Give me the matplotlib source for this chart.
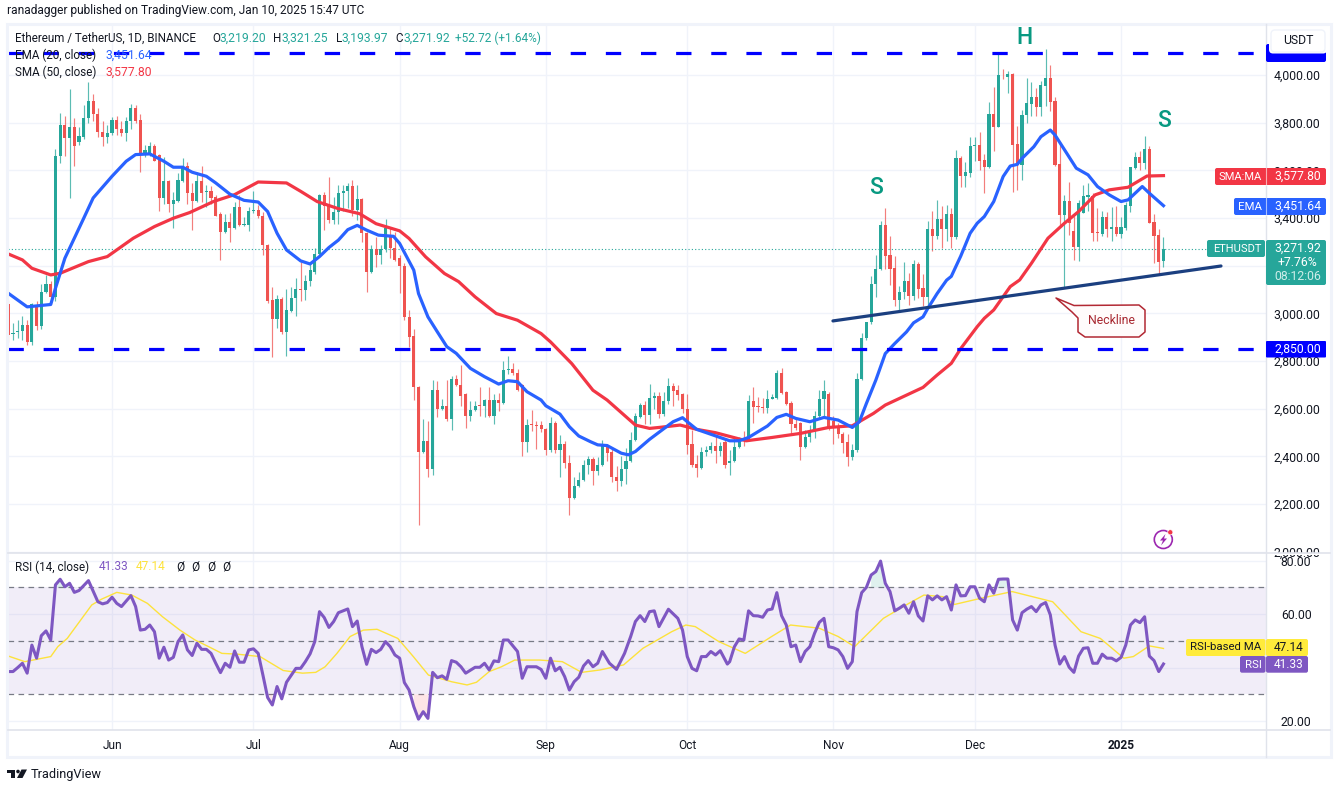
import matplotlib
matplotlib.use("Agg")
import matplotlib.pyplot as plt
from matplotlib.patches import FancyBboxPatch, Rectangle, Circle, Polygon

plt.rcParams['font.family'] = ['Roboto', 'DejaVu Sans']

open_ = [3040,2915,2920,2925,2950,2880,3035,2945,3090,3125,3070,3660,3790,3735,3780,3720,3740,3820,3890,3835,
3760,3740,3755,3810,3775,3755,3805,3860,3810,3665,3670,3700,3665,3485,3555,3460,3470,3555,3620,3505,
3470,3555,3510,3515,3490,3415,3340,3385,3360,3445,3370,3370,3430,3435,3410,3285,3055,2975,3060,2920,
3010,3065,3100,3098,3135,3175,3250,3495,3450,3390,3425,3505,3515,3535,3435,3480,3335,3175,3270,3245,
3270,3323,3275,3230,3200,2985,2905,2690,2420,2465,2345,2680,2600,2610,2555,2725,2700,2660,2570,2595,
2613,2610,2635,2570,2635,2625,2760,2768,2748,2700,2460,2532,2530,2530,2515,2425,2540,2425,2450,2370,
2225,2275,2300,2365,2390,2340,2365,2440,2420,2315,2295,2345,2380,2470,2565,2615,2575,2645,2652,2578,
2630,2694,2678,2660,2600,2452,2366,2350,2417,2425,2443,2423,2460,2370,2380,2440,2475,2470,2633,2608,
2606,2604,2642,2645,2750,2670,2625,2535,2540,2440,2482,2508,2570,2640,2661,2550,2517,2495,2460,2395,
2427,2724,2895,2962,3125,3185,3370,3243,3188,3055,3088,3135,3072,3205,3108,3069,3355,3325,3395,3355,
3417,3322,3650,3578,3590,3700,3705,3642,3612,3836,3783,3999,3993,4004,3710,3622,3832,3880,3906,3867,
3954,3986,3891,3627,3413,3471,3345,3280,3422,3490,3494,3338,3333,3405,3354,3364,3333,3357,3452,3610,
3655,3630,3688,3382,3329,3219.20]
high = [3055,2960,2970,2990,2970,3045,3050,3125,3160,3135,3690,3840,3830,3940,3820,3780,3875,3970,3920,3860,
3805,3790,3825,3830,3805,3825,3880,3875,3835,3705,3720,3710,3670,3655,3560,3510,3590,3650,3635,3545,
3595,3620,3540,3535,3495,3425,3415,3420,3465,3495,3405,3445,3515,3455,3425,3290,3110,3075,3070,3100,
3110,3150,3215,3160,3205,3275,3500,3510,3570,3490,3540,3540,3545,3560,3540,3485,3340,3285,3320,3285,
3395,3363,3340,3245,3210,3015,2935,2695,2555,2550,2720,2715,2640,2720,2735,2740,2785,2665,2630,2630,
2690,2640,2690,2660,2665,2800,2820,2790,2765,2705,2555,2595,2550,2550,2520,2565,2550,2490,2465,2405,
2315,2335,2385,2400,2395,2395,2470,2450,2430,2360,2400,2435,2500,2580,2625,2630,2705,2670,2670,2670,
2727,2708,2699,2665,2660,2510,2405,2440,2443,2458,2490,2460,2475,2425,2475,2480,2505,2657,2689,2650,
2645,2678,2660,2762,2770,2675,2633,2565,2545,2510,2530,2592,2678,2722,2670,2570,2540,2500,2495,2450,
2750,2918,2965,3155,3245,3388,3440,3325,3240,3115,3215,3170,3225,3215,3165,3388,3430,3475,3450,3455,
3440,3685,3660,3636,3738,3740,3760,3670,3888,3950,4088,4025,4015,4010,3785,3855,3986,3970,3945,3976,
4108,4042,3908,3720,3497,3553,3408,3475,3540,3545,3505,3440,3430,3425,3445,3450,3405,3465,3615,3675,
3680,3744,3700,3415,3355,3321.25]
low = [2880,2890,2895,2890,2865,2865,2930,2935,3085,3065,3050,3630,3660,3485,3620,3705,3730,3800,3805,3740,
3700,3715,3750,3750,3745,3725,3775,3800,3595,3655,3660,3640,3430,3460,3425,3360,3465,3550,3460,3350,
3465,3465,3445,3460,3410,3225,3335,3300,3355,3365,3365,3345,3420,3400,3245,3045,2815,2940,2915,2820,
3005,2990,3050,3055,3115,3165,3240,3350,3380,3375,3375,3430,3440,3410,3390,3300,3090,3170,3195,3205,
3258,3234,3220,3085,2970,2860,2635,2110,2415,2315,2320,2565,2595,2550,2510,2695,2610,2520,2550,2590,
2570,2565,2565,2535,2590,2620,2745,2740,2675,2400,2420,2505,2430,2500,2405,2420,2415,2315,2350,2155,
2220,2270,2295,2325,2280,2320,2360,2380,2290,2255,2275,2285,2375,2465,2560,2535,2535,2600,2560,2570,
2620,2611,2637,2580,2410,2355,2315,2345,2400,2415,2370,2400,2352,2320,2375,2435,2445,2465,2540,2585,
2580,2580,2640,2640,2660,2615,2490,2510,2385,2435,2460,2475,2560,2565,2510,2450,2475,2415,2360,2385,
2420,2720,2890,2955,3070,3180,3185,3118,3030,3015,3060,3035,3055,3065,3030,3030,3260,3310,3275,3305,
3273,3310,3532,3530,3570,3640,3600,3505,3608,3680,3780,3985,3925,3510,3518,3560,3800,3830,3830,3830,
3870,3850,3620,3364,3105,3330,3224,3220,3420,3430,3305,3305,3325,3320,3305,3325,3315,3350,3425,3605,
3600,3607,3378,3210,3161,3193.97]
close = [2910,2918,2925,2950,2880,3040,2945,3090,3125,3070,3660,3790,3735,3780,3700,3745,3820,3890,3835,3760,
3740,3755,3810,3775,3755,3805,3860,3805,3665,3685,3700,3640,3485,3555,3460,3475,3560,3620,3505,3470,
3555,3505,3515,3485,3410,3340,3385,3360,3445,3370,3372,3430,3435,3410,3285,3050,2975,3060,2920,3015,
3065,3100,3098,3135,3180,3250,3495,3450,3390,3425,3505,3515,3535,3435,3480,3335,3175,3270,3245,3270,
3360,3276,3225,3200,2985,2900,2690,2420,2465,2345,2680,2600,2610,2555,2725,2700,2655,2570,2595,2610,
2610,2635,2570,2635,2625,2760,2768,2748,2680,2460,2530,2530,2528,2515,2425,2540,2425,2450,2370,2225,
2275,2300,2365,2390,2340,2365,2445,2415,2315,2295,2345,2380,2470,2570,2615,2575,2645,2652,2578,2630,
2694,2675,2657,2598,2447,2363,2350,2417,2425,2443,2423,2443,2363,2380,2440,2475,2468,2633,2608,2606,
2604,2642,2650,2748,2667,2620,2535,2520,2440,2482,2508,2570,2640,2675,2513,2517,2492,2457,2395,2427,
2724,2895,2962,3125,3185,3370,3240,3185,3055,3088,3135,3072,3205,3104,3069,3355,3325,3395,3355,3415,
3322,3650,3578,3595,3702,3705,3640,3612,3836,3783,4000,3998,4003,3706,3622,3832,3881,3906,3867,3958,
3986,3888,3622,3413,3471,3378,3280,3462,3492,3497,3336,3336,3405,3354,3364,3333,3364,3455,3613,3655,
3632,3688,3381,3326,3217,3271.92]

ema_day = [0,4,9,10,12,14,16,18,22,25,27,30,33,35,37,39,42,44,47,50,53,55,57,59,62,64,66,68,70,72,74,76,78.5,81.7,83,86,87,89,91,93,95,98,101,104,106,108,110,113,114,117,119,121,123.5,125,127,130,131.5,133,136,138.5,141,143,144,146,149.5,153,155,157,161,163,165,167,170,173,176,179,180.5,182,184,186,188,190.5,192,194,195,197,199,200,202,204,205.5,207,209,211,212.5,214,215,217.5,219,221,222,224.5,226.5,229,231,233.5,236,237.5,240.5,242,245]
ema_val = [3084,3027,3037,3105,3231,3315,3399,3484,3575,3638,3666,3669,3638,3613,3613,3592,3575,3547,3500,3474,3467,3427,3336,3266,3220,3207,3238,3276,3307,3351,3369,3349,3328,3323,3293,3181,3083,2985,2922,2860,2832,2769,2734,2703,2717,2713,2671,2636,2612,2577,2524,2485,2461,2448,2445,2413,2406,2420,2471,2508,2545,2562,2545,2513,2489,2465,2465,2479,2527,2563,2576,2559,2545,2563,2552,2521,2545,2622,2720,2831,2873,2922,2960,2985,3020,3083,3139,3155,3240,3336,3378,3406,3469,3574,3618,3625,3650,3699,3741,3769,3748,3671,3609,3581,3532,3497,3469,3476,3532,3504,3451.64]
sma_day = [0,3,5,9,11,17,21,26.5,31,35,38.5,43.5,48,53,59,62,65.5,70,74.5,78,83,85,88.5,92.5,95.5,99,103.5,108,113,115,119.5,124,127,133,136,138,142.5,146,150,156.5,162,168,174,179,183.5,186,194,197,200,202,205.5,207,209,212.5,214.5,217,220.5,224,227,230.5,233.5,237.5,241.5,245]
sma_val = [3249,3224,3189,3161,3168,3217,3238,3315,3364,3399,3423,3469,3498,3551,3547,3512,3469,3439,3418,3376,3346,3314,3237,3167,3133,3069,2999,2971,2915,2880,2789,2677,2636,2531,2517,2521,2531,2513,2499,2465,2479,2496,2521,2528,2580,2615,2689,2741,2790,2852,2944,2979,3014,3112,3140,3210,3315,3378,3427,3497,3518,3529,3576,3577.80]

rsi_day = [0,1,2,3,4,5,6,7,8,9,10,11,12,13,14,15,17,19,20,21,22,23,24,26,27,28,29,30,31,32,33,34,35,36,37,38,39,40,41,42,43,44,45,46,47,48,49,50,51,52,53,54,55,56,57,58,59,61,62,63,64,65,66,67,68,69,70,72,73,74,75,76,77,78,79,80,81,82,83,84,85,86,87,88,89,90,91,92,93,94,95,96,97,99,100,101,102,103,104,105,106,108,109,110,112,113,114,115,116,117,118,119,120,121,122,123,124,125,126,
127.5,129,130.7,132,133,134,135,136,137,138,140,142,143,144,145,146,147,148,149,150,151,152.5,153,154,155,156,157,158,159,160,161,162,163,164,165,166,167,168,169,170,171,172,173,174,175,176,177,178,179,180,181,182,183,184,185,186,187,188,189,190,191,192,193,194,195,196,197,198,199,200,201,202,203,204,205,206,207,208,209,210,211,212,213,214,215,216,217,218,219,220,221,222,223,224,225,226,227,228,229,230,231,232,233,234,235,236,237,238,239,240,241,242,243,244,245]
rsi_val = [38.5,38.5,40,41.6,37.9,48.4,43.5,51.9,53.7,50.3,70.9,73,70.2,71.5,68.1,68.8,72.5,64.6,63.8,64.3,66.3,64,62.8,66.9,62.8,54,54.3,55.9,53.4,43.5,47.6,42.8,43.8,49.7,52.2,46.6,44.5,49.1,46.8,46.8,45.3,41.6,38.1,41.6,40.1,46.2,42,42,46.6,47,45.3,37.2,28.8,26,32.9,28.3,34.5,39.7,39.7,42.2,45.1,49.7,60.9,58.7,55,57.2,60.5,61.9,55.3,57.4,47.8,41.2,46.8,45.6,46.8,49.7,47.8,44.7,43.5,34.4,31.6,25.4,20.7,23.5,21,38.2,36.2,36.9,35.6,42.6,42,40.3,37.9,40.1,40.1,41.6,39.1,42.5,42.2,50.3,50.3,46,36,40.3,40.3,39.3,36,43.5,38.8,40.1,36.6,31.6,34.7,36.4,40.6,42.6,40.3,41.6,46,
41.6,39.3,45.3,51.6,57.2,59.4,57.2,60.9,61.2,55.3,61.8,58.4,54,44.1,39.7,38.8,44.1,44.1,46,44.7,46.3,41.3,42.2,47.8,50.7,50.3,61.2,59.4,59.3,58.8,61.5,61.9,68,59.4,55.9,47.8,48.4,42.2,46,47.8,52.8,56.9,58.4,47.8,47.4,46.6,44.1,39.7,42.2,60.9,68,70,74.6,75.9,79.8,71.5,68.4,61.2,62.2,63.4,60.3,64.6,59.3,57.4,66.8,65.3,66.8,65.3,66.5,61.5,70.9,66.8,66.9,70.2,70.2,65.9,64.6,70.9,67.8,73,73.1,73.1,57.8,54,60.5,61.8,62.8,60.9,63.4,64.3,59.7,48.4,41.3,44.1,40.1,38.2,44.3,47.2,47.4,41.6,41.6,45,43.5,43.5,42.5,43.8,48.4,55.9,57.8,56.8,59,44.3,42.6,38.5,41.33]
rsima_day = [0,3.5,9,10.5,12.5,17.7,19.7,23,26.2,29.5,32.7,36.4,39.6,42.5,45.3,48.6,53.4,58.3,62.4,65.2,67.2,69.7,72.5,75.3,78.2,82.6,85.9,89.1,94,97.3,99.3,102,104.6,107.4,112.7,117.5,121.6,125.5,130.5,134.6,140.7,143.7,145.7,150.7,156.3,161.9,165.9,172,176,179.5,185.6,191,194.2,198.2,200.7,206.3,212.9,221.5,227.5,231.6,236.6,238.6,242,245]
rsima_val = [44.3,42.2,44.1,47.8,50.9,63.4,65.5,68.1,67.1,64,59,54,50.3,47.8,45.3,45,44.1,38.9,37.9,38.2,40.3,45.3,51.6,54,54.3,50.9,44.1,37.2,34.7,33.5,34.5,38.5,40.3,42.8,42.8,42.2,38.2,39.1,41,47.2,53.4,55.9,55.3,49.7,45.3,51.6,55.9,54.7,51.6,47.8,58.4,64,67.1,66.5,63.6,65.9,68.4,64.6,53.4,50.9,43.5,44.1,48.1,47.14]

price_ticks = [2000,2200,2400,2600,2800,3000,3200,3400,3600,3800,4000]
rsi_ticks = [20,40,60,80]
rsi_guides = [30,50,70]
month_days = [22,52,83,114,144,175,205,236]
month_labels = ['Jun','Jul','Aug','Sep','Oct','Nov','Dec','2025']
support_levels = [4091,2850]
neck_day = [174.9,257.2]
neck_price = [2968,3198.5]

UP = '#26A69A'; DOWN = '#EF5350'; BLUE = '#2962FF'; RED = '#F23645'
PURPLE = '#7E57C2'; YEL = '#FFEB3B'; GRID = '#F0F3FA'; LINE = '#E0E3EB'; TXT = '#131722'
W, H = 1339, 790
fig = plt.figure(figsize=(W/100, H/100), dpi=100, facecolor='white')

def pane(x0, y0, x1, y1):
    return fig.add_axes([x0/W, 1-y1/H, (x1-x0)/W, (y1-y0)/H])

xlim = ((8-8.3)/4.715, (1265.5-8.3)/4.715)
ax = pane(8, 24, 1265.5, 552.5)
ax.set_xlim(*xlim)
ax.set_ylim(4000-(552.5-75)/0.2383, 4000+(75-24)/0.2383)
rx = pane(8, 552.5, 1265.5, 729.5)
rx.set_xlim(*xlim)
rx.set_ylim(30-(729.5-694.3)/2.675, 70+(587.3-552.5)/2.675)

for a in (ax, rx):
    for s in a.spines.values():
        s.set_visible(False)
    a.yaxis.tick_right()
    a.tick_params(length=0, labelsize=8.8, labelcolor=TXT)
    a.set_xticks(month_days)
    a.grid(True, color=GRID, lw=1)
    a.set_axisbelow(True)
ax.tick_params(axis='y', pad=6)
rx.tick_params(axis='y', pad=11)
ax.set_xticklabels([])
ax.set_yticks(price_ticks)
# the 3,200 label sits wholly behind the last-price tag, the 40 label behind the RSI tag
ax.set_yticklabels(['' if t == 3200 else f'{t:,.2f}' for t in price_ticks])
rx.set_yticks(rsi_ticks)
rx.set_yticklabels(['' if t == 40 else f'{t:.2f}' for t in rsi_ticks])
rx.set_xticklabels(month_labels)
rx.tick_params(axis='x', labelsize=8.6, pad=6.5)
rx.get_xticklabels()[-1].set_fontweight('bold')

days = list(range(len(close)))
ucol = [UP if c >= o else DOWN for o, c in zip(open_, close)]
ax.vlines(days, low, high, colors=ucol, lw=0.85, alpha=0.75, zorder=2)
ax.bar(days, [abs(c-o) if abs(c-o) > 4 else 4 for o, c in zip(open_, close)],
       bottom=[min(o, c) for o, c in zip(open_, close)], width=0.66, color=ucol, lw=0, zorder=3)
ax.axhline(close[-1], xmax=(1207-8)/(1265.5-8), color=UP, lw=0.8, ls=(0, (1, 2)), zorder=2)
ax.plot(sma_day, sma_val, color=RED, lw=2.3, zorder=4, solid_joinstyle='round')
ax.plot(ema_day, ema_val, color=BLUE, lw=2.3, zorder=5, solid_joinstyle='round')
for lv in support_levels:
    ax.axhline(lv, color='#0000FF', lw=2.3, ls=(0, (4.8, 6.2)), zorder=6)
ax.plot(neck_day, neck_price, color='#1B3F80', lw=2.3, zorder=6, solid_capstyle='round')

rx.axhspan(rsi_guides[0], rsi_guides[2], color=PURPLE, alpha=0.1, lw=0, zorder=1)
for g in rsi_guides:
    rx.axhline(g, color='#787B86', lw=0.9, ls=(0, (4.5, 3.5)), zorder=2)
rx.fill_between(rsi_day, rsi_val, 30, where=[v < 30 for v in rsi_val], color='#F23645', alpha=0.13, lw=0, zorder=2)
rx.fill_between(rsi_day, rsi_val, 70, where=[v > 70 for v in rsi_val], color='#089981', alpha=0.13, lw=0, zorder=2)
rx.plot(rsima_day, rsima_val, color='#FDE23C', lw=1.0, zorder=3)
rx.plot(rsi_day, rsi_val, color=PURPLE, lw=2.2, zorder=4, solid_joinstyle='round')

# ---- chrome drawn in figure pixels ----
ov = fig.add_axes([0, 0, 1, 1], zorder=10)
ov.set_xlim(0, W); ov.set_ylim(H, 0); ov.axis('off'); ov.patch.set_alpha(0)
def T(x, y, s, color=TXT, size=8.8, **kw):
    kw.setdefault('va', 'center'); kw.setdefault('ha', 'left')
    return ov.text(x, y, s, color=color, fontsize=size, **kw)
def box(x0, y0, x1, y1, color, r=2):
    ov.add_patch(FancyBboxPatch((x0+r, y0+r), x1-x0-2*r, y1-y0-2*r,
                 boxstyle=f'round,pad={r},rounding_size={r}', fc=color, ec='none', zorder=3))

ov.add_patch(Rectangle((7, 23.5), 1323.5, 733.5, fc='none', ec=GRID, lw=2.2))
ov.plot([1265.5, 1265.5], [24, 757], color=LINE, lw=1)
ov.plot([8, 1330], [552.5, 552.5], color=LINE, lw=1.2)
ov.plot([8, 1330], [729.5, 729.5], color=LINE, lw=1.2)
ov.add_patch(Rectangle((1267, 552.8), 60, 2, fc='white', ec='none', zorder=1))

T(7, 10.5, 'ranadagger published on TradingView.com, Jan 10, 2025 15:47 UTC', size=8.6)
T(15, 38, 'Ethereum / TetherUS, 1D, BINANCE', size=8.4)
for x, s, c, fs in [(212.5,'O',TXT,8.4),(220,'3,219.20',UP,8.7),(273,'H',TXT,8.4),(281.5,'3,321.25',UP,8.7),(336,'L',TXT,8.4),(341.5,'3,193.97',UP,8.7),
                (395,'C',TXT,8.4),(403,'3,271.92',UP,8.7),(455,'+52.72 (+1.64%)',UP,8.6)]:
    T(x, 38, s, c, size=fs)
T(15, 55, 'EMA (20, close)', size=8.4); T(105, 55, '3,451.64', BLUE, size=8.7)
T(15, 72, 'SMA (50, close)', size=8.4); T(105, 72, '3,577.80', RED, size=8.7)
T(15, 567, 'RSI (14, close)', size=8.4); T(99, 567, '41.33', PURPLE, size=8.6); T(136, 567, '47.14', '#FDE23C', size=8.6)
for x in (176, 191, 207, 222):
    T(x, 567, 'Ø', size=8.6)

for x, y, s in [(1024, 37, 'H'), (876, 187, 'S'), (1164, 120.5, 'S')]:
    T(x, y, s, '#089981', size=16.5, ha='center', fontweight='medium')

# Neckline callout
verts = [(1056,298),(1074,305.5),(1139,305),(1145,310),(1145,332),(1139,337),(1085,337),(1078,332),(1078,318),(1072,312),(1056,298)]
ov.add_patch(Polygon(verts, closed=True, fc='#FFFBFB', ec='#B22833', lw=1.1, joinstyle='round', zorder=2))
T(1111.5, 320.5, 'Neckline', '#A8272F', size=8.8, ha='center', zorder=4)

# price tags
box(1266, 44, 1326, 62, '#0000FF')
box(1269, 28, 1327, 53.5, 'white', r=4)
ov.add_patch(FancyBboxPatch((1272, 31), 52, 20, boxstyle='round,pad=1,rounding_size=4', fc='white', ec=GRID, lw=1, zorder=4))
T(1298, 41, 'USDT', size=8.8, ha='center', zorder=5)
box(1215, 168, 1326, 185, RED)
T(1240, 176.5, 'SMA:MA', 'white', size=8.0, ha='center', zorder=5)
T(1297.5, 176.5, '3,577.80', 'white', size=8.8, ha='center', zorder=5)
ov.plot([1265.5,1265.5],[168,185], color='white', lw=0.8, alpha=.6, zorder=4)
box(1234, 198, 1326, 215, BLUE)
T(1250, 206.5, 'EMA', 'white', size=8.2, ha='center', zorder=5)
T(1297.5, 206.5, '3,451.64', 'white', size=8.8, ha='center', zorder=5)
ov.plot([1265.5,1265.5],[198,215], color='white', lw=0.8, alpha=.6, zorder=4)
box(1207, 240, 1265, 257, UP)
box(1266, 240, 1326, 285, UP)
T(1237, 248.5, 'ETHUSDT', 'white', size=8.0, ha='center', zorder=5)
T(1297.5, 248.5, '3,271.92', 'white', size=8.8, ha='center', zorder=5)
T(1297.5, 262, '+7.76%', 'white', size=8.8, ha='center', zorder=5)
T(1297.5, 276, '08:12:06', '#CFEDE9', size=8.8, ha='center', zorder=5)
box(1266, 341, 1326, 357.5, '#0000FF', r=1)
T(1297.5, 349.5, '2,850.00', 'white', size=8.8, ha='center', zorder=5)
box(1186, 639, 1265.5, 656, '#FFEB3B', r=2)
T(1226, 647.5, 'RSI-based MA', TXT, size=8.2, ha='center', zorder=5)
box(1266, 639, 1308, 656, '#FFEB3B', r=2)
T(1288.5, 647.5, '47.14', TXT, size=8.6, ha='center', zorder=5)
box(1240, 656, 1265.5, 672.7, PURPLE, r=2)
box(1266, 656, 1308, 672.7, PURPLE, r=2)
T(1253, 664.5, 'RSI', 'white', size=8.2, ha='center', zorder=5)
T(1288.5, 664.5, '41.33', 'white', size=8.6, ha='center', zorder=5)

# alert icon
ov.add_patch(Circle((1163.3, 539.5), 9, fc='white', ec='#9C27B0', lw=1.2, zorder=3))
ov.add_patch(Polygon([(1165.5,534),(1160,540.5),(1163,540.5),(1161,545.5),(1167,538.5),(1164,538.5)], fc='#9C27B0', ec='none', zorder=4))
ov.add_patch(Circle((1170.3, 532.3), 2.6, fc='#F23645', ec='white', lw=0.5, zorder=5))

# TradingView logo
ov.add_patch(Polygon([(7,769.5),(15,769.5),(15,778),(11,778),(11,773),(7,773)], fc=TXT, ec='none'))
ov.add_patch(Circle((18, 771.5), 1.8, fc=TXT, ec='none'))
ov.add_patch(Polygon([(21.5,769.5),(27,769.5),(22.5,778),(17,778)], fc=TXT, ec='none'))
T(30.5, 774.5, 'TradingView', size=9.2)

fig.savefig('out.png', dpi=100)
